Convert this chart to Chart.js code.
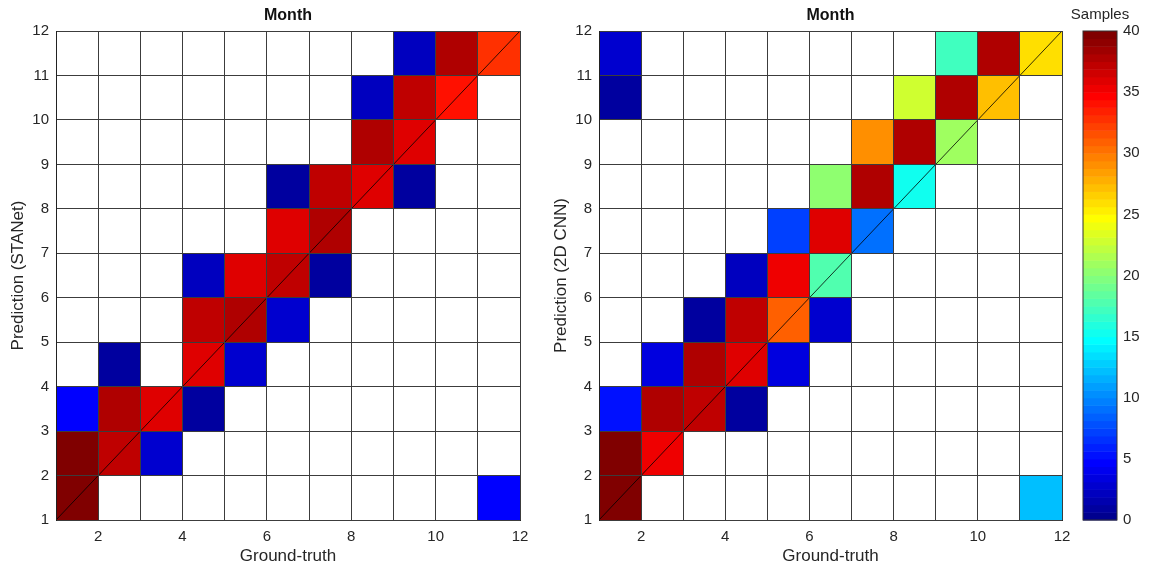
<!DOCTYPE html>
<html>
<head>
<meta charset="utf-8">
<script src="https://cdn.jsdelivr.net/npm/chart.js@4"></script>
<style>
  body { margin: 0; background: #fff; }
  .box { position: absolute; top: 0; height: 568px; }
</style>
</head>
<body>
<div class="box" style="left:0;width:540px"><canvas id="stanet"></canvas></div>
<div class="box" style="left:540px;width:560px"><canvas id="cnn"></canvas></div>
<div class="box" style="left:1046px;width:108px"><canvas id="bar"></canvas></div>
<script>
// month axis and colour scale
const months = [1, 2, 3, 4, 5, 6, 7, 8, 9, 10, 11, 12]
const sampleTicks = [0, 5, 10, 15, 20, 25, 30, 35, 40]

// STANet confusion cells (lower-left corner of each cell)
const stanetTruth   = [9, 10, 11,  8, 9, 10,  8, 9,  6, 7, 8, 9,  6, 7,  4, 5, 6, 7,  4, 5, 6,  2, 4, 5,  1, 2, 3, 4,  1, 2, 3,  1, 11]
const stanetPred    = [11, 11, 11, 10, 10, 10, 9, 9, 8, 8, 8, 8, 7, 7, 6, 6, 6, 6, 5, 5, 5, 4, 4, 4, 3, 3, 3, 3, 2, 2, 2, 1, 1]
const stanetSamples = [2.2, 38, 32.8, 2.2, 37, 34, 38, 36, 1, 37, 36, 1, 36, 38, 2.2, 36, 37, 1, 37, 38, 2.8, 1, 36, 2.8, 4.7, 38, 36, 1, 40, 37, 2.8, 40, 4.7]

// 2D CNN confusion cells
const cnnTruth   = [1, 9, 10, 11,  1, 8, 9, 10,  7, 8, 9,  6, 7, 8,  5, 6, 7,  4, 5, 6,  3, 4, 5, 6,  2, 3, 4, 5,  1, 2, 3, 4,  1, 2,  1, 11]
const cnnPred    = [11, 11, 11, 11, 10, 10, 10, 10, 9, 9, 9, 8, 8, 8, 7, 7, 7, 6, 6, 6, 5, 5, 5, 5, 4, 4, 4, 4, 3, 3, 3, 3, 2, 2, 1, 1]
const cnnSamples = [2.8, 17.2, 38, 25.9, 1, 22.8, 38, 27.2, 29, 38, 20.9, 20.3, 38, 15.3, 7.2, 36, 9, 2.2, 35.3, 17.8, 1, 37, 31, 2.8, 3.4, 38, 36, 3.4, 5.3, 38, 37, 1, 40, 35.3, 40, 12.2]

Chart.defaults.font.family = "'Liberation Sans', Arial, sans-serif"
Chart.defaults.color = '#262626'

// matlab jet(64)
function jetRow(k) {
  let u = j => j < 1 || j > 47 ? 0 : j <= 16 ? j / 16 : j <= 31 ? 1 : (48 - j) / 16
  let row = k + 1
  return `rgb(${Math.round(u(row - 24) * 255)},${Math.round(u(row - 8) * 255)},${Math.round(u(row + 8) * 255)})`
}
function jetColor(v) {
  let lo = sampleTicks[0], hi = sampleTicks.at(-1)
  let k = Math.min(63, Math.max(0, Math.floor((v - lo) / (hi - lo) * 64)))
  return jetRow(k)
}

const cells = {
  id: 'cells',
  beforeDatasetsDraw(chart, args, opts) {
    const { ctx, scales: { x, y } } = chart
    ctx.save()
    opts.truth.forEach((t, i) => {
      let x0 = x.getPixelForValue(t), x1 = x.getPixelForValue(t + 1)
      let y0 = y.getPixelForValue(opts.pred[i] + 1), y1 = y.getPixelForValue(opts.pred[i])
      ctx.fillStyle = jetColor(opts.samples[i])
      ctx.fillRect(x0, y0, x1 - x0, y1 - y0)
    })
    ctx.restore()
  }
}

function matrix(id, truth, pred, samples, yTitle, yWidth, yTitlePad, padRight) {
  new Chart(document.getElementById(id), {
    type: 'scatter',
    data: {
      datasets: [{
        data: [{ x: months[0], y: months[0] }, { x: months.at(-1), y: months.at(-1) }],
        showLine: true,
        borderColor: '#000',
        borderWidth: 0.8,
        pointRadius: 0
      }]
    },
    options: {
      responsive: true,
      maintainAspectRatio: false,
      devicePixelRatio: 1,
      animation: false,
      layout: { padding: { left: 0, right: padRight, top: 0, bottom: 0 } },
      plugins: {
        legend: { display: false },
        tooltip: { enabled: false },
        title: {
          display: true, text: 'Month', fullSize: false, color: '#111',
          font: { size: 16, weight: 'bold' }, padding: { top: 6, bottom: 5.8 }
        },
        cells: { truth, pred, samples }
      },
      scales: {
        x: {
          type: 'linear', min: months[0], max: months.at(-1),
          grid: { color: '#3c3c3c', lineWidth: 1, drawTicks: false, z: 1 },
          border: { color: '#222', z: 1 },
          ticks: {
            stepSize: 1, autoSkip: false, maxRotation: 0, padding: 8, font: { size: 15 },
            callback: v => v % 2 ? '' : v
          },
          title: { display: true, text: 'Ground-truth', font: { size: 17 }, padding: { top: 0, bottom: 1 } },
          afterFit: s => { s.height = 48 }
        },
        y: {
          type: 'linear', min: months[0], max: months.at(-1),
          grid: { color: '#3c3c3c', lineWidth: 1, drawTicks: false, z: 1 },
          border: { color: '#222', z: 1 },
          ticks: { stepSize: 1, autoSkip: false, padding: 7, font: { size: 15 } },
          title: { display: true, text: yTitle, font: { size: 17 }, padding: { top: yTitlePad, bottom: 0 } },
          afterFit: s => { s.width = yWidth }
        }
      }
    },
    plugins: [cells]
  })
}

matrix('stanet', stanetTruth, stanetPred, stanetSamples, 'Prediction (STANet)', 56, 8, 20)
matrix('cnn', cnnTruth, cnnPred, cnnSamples, 'Prediction (2D CNN)', 59, 11, 38)

// colour bar
const colorbar = {
  id: 'colorbar',
  beforeDatasetsDraw(chart) {
    const { ctx, chartArea: a, scales: { y } } = chart
    let lo = sampleTicks[0], hi = sampleTicks.at(-1)
    ctx.save()
    for (let k = 0; k < 64; k++) {
      let y0 = y.getPixelForValue(lo + (k + 1) * (hi - lo) / 64)
      let y1 = y.getPixelForValue(lo + k * (hi - lo) / 64)
      ctx.fillStyle = jetRow(k)
      ctx.fillRect(a.left, y0, a.right - a.left, y1 - y0 + 0.5)
    }
    ctx.strokeStyle = '#333'
    ctx.lineWidth = 1
    ctx.strokeRect(a.left, a.top, a.right - a.left, a.bottom - a.top)
    ctx.restore()
  }
}

new Chart(document.getElementById('bar'), {
  type: 'scatter',
  data: { datasets: [{ data: [] }] },
  options: {
    responsive: true,
    maintainAspectRatio: false,
    devicePixelRatio: 1,
    animation: false,
    layout: { padding: { left: 0, right: 0, top: 0, bottom: 48 } },
    plugins: {
      legend: { display: false },
      tooltip: { enabled: false },
      title: {
        display: true, text: 'Samples', color: '#262626',
        font: { size: 15, weight: 'normal' }, padding: { top: 6, bottom: 7 }
      }
    },
    scales: {
      x: { display: false, min: 0, max: 1 },
      spacer: {
        position: 'left', min: 0, max: 1,
        grid: { display: false, drawTicks: false },
        border: { display: false },
        ticks: { display: false },
        afterFit: s => { s.width = 37 }
      },
      y: {
        position: 'right', min: sampleTicks[0], max: sampleTicks.at(-1),
        grid: { display: false, drawTicks: false },
        border: { display: false },
        ticks: { stepSize: 5, padding: 6, font: { size: 15 } },
        afterFit: s => { s.width = 37 }
      }
    }
  },
  plugins: [colorbar]
})
</script>
</body>
</html>
